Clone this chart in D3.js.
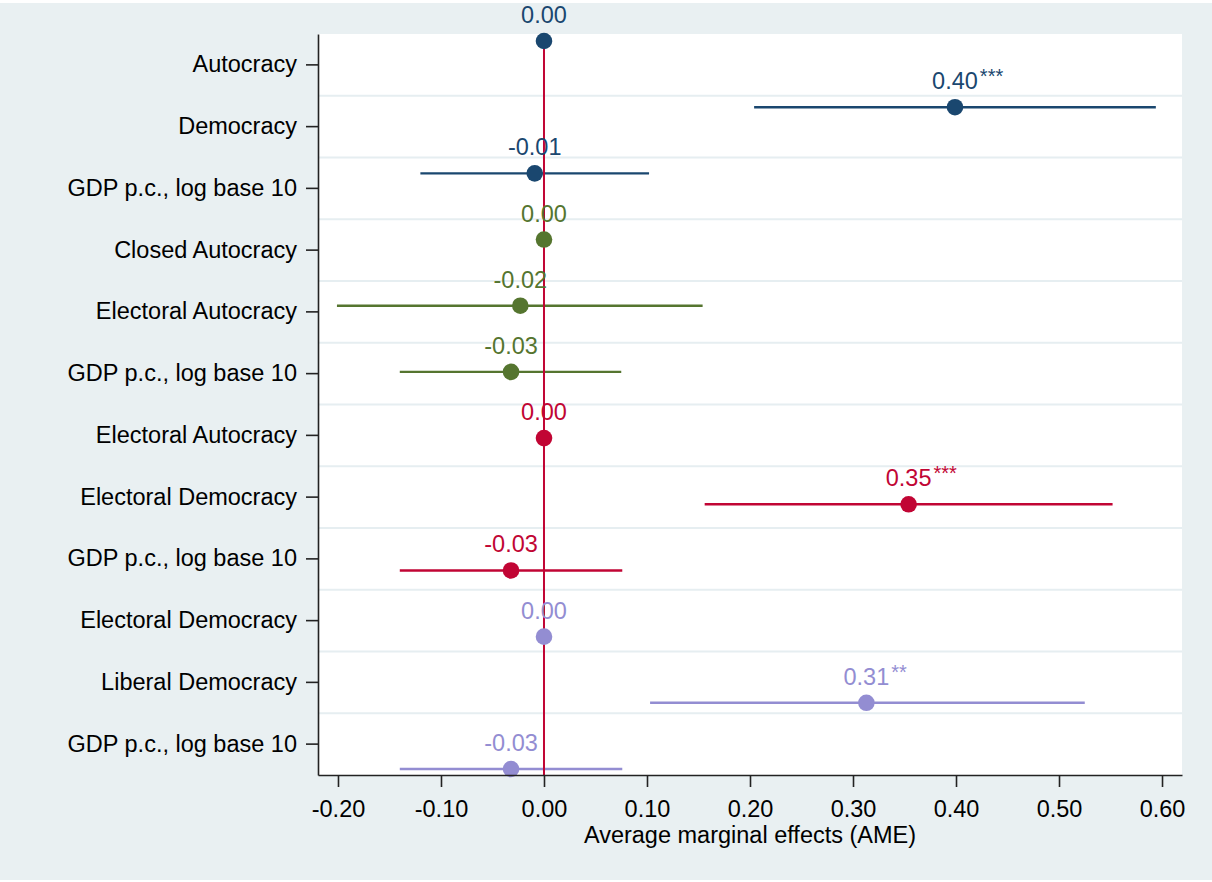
<!DOCTYPE html>
<html>
<head>
<meta charset="utf-8">
<script src="https://cdn.jsdelivr.net/npm/d3@7"></script>
<style>
  html, body { margin: 0; padding: 0; background: #ffffff; }
  svg { display: block; font-family: "Liberation Sans", Arial, Helvetica, sans-serif; }
</style>
</head>
<body>
<svg id="chart" width="1212" height="882"></svg>
<script>
// Row labels, top to bottom (four models, three terms each)
const rowLabels = [
  "Autocracy", "Democracy", "GDP p.c., log base 10",
  "Closed Autocracy", "Electoral Autocracy", "GDP p.c., log base 10",
  "Electoral Autocracy", "Electoral Democracy", "GDP p.c., log base 10",
  "Electoral Democracy", "Liberal Democracy", "GDP p.c., log base 10"
];
// Model each row belongs to
const rowModel = [0, 0, 0, 1, 1, 1, 2, 2, 2, 3, 3, 3];
// Average marginal effects and 95% confidence bounds (null = reference category)
const estimates = [0.000, 0.399, -0.009, 0.000, -0.023, -0.032, 0.000, 0.354, -0.032, 0.000, 0.313, -0.032];
const ciLower   = [null, 0.204, -0.120, null, -0.201, -0.140, null, 0.156, -0.140, null, 0.103, -0.140];
const ciUpper   = [null, 0.594,  0.102, null,  0.154,  0.075, null, 0.552,  0.076, null, 0.525,  0.076];
const stars     = ["", "***", "", "", "", "", "", "***", "", "", "**", ""];
// X-axis ticks
const xTicks = [-0.2, -0.1, 0.0, 0.1, 0.2, 0.3, 0.4, 0.5, 0.6];
const xTitle = "Average marginal effects (AME)";
// Model colours
const modelColors = ["#1a476f", "#55752f", "#c10534", "#938dd2"];

const W = 1212, H = 882;
const plot = { left: 318, right: 1182, top: 34, bottom: 775 };
const FONT = 23.5;

const svg = d3.select("#chart");

// Background frame and white plot region
svg.append("rect").attr("x", 0).attr("y", 3).attr("width", W).attr("height", H - 5)
  .attr("fill", "#e9f0f2");
svg.append("rect").attr("x", plot.left).attr("y", plot.top)
  .attr("width", plot.right - plot.left).attr("height", plot.bottom - plot.top)
  .attr("fill", "#ffffff");

// Scales
const x = d3.scaleLinear().domain([-0.2194, 0.6194]).range([plot.left, plot.right]);
const rows = d3.range(rowLabels.length);
const yBand = d3.scaleBand().domain(rows).range([plot.top, plot.bottom]);
const yPoint = d3.scalePoint().domain(rows).range([41, 769]);

// Horizontal separators between rows
svg.append("g").selectAll("line").data(rows.slice(1)).join("line")
  .attr("x1", plot.left).attr("x2", plot.right)
  .attr("y1", d => yBand(d)).attr("y2", d => yBand(d))
  .attr("stroke", "#e6eef1").attr("stroke-width", 2.2);

// Confidence intervals
const ciRows = rows.filter(i => ciLower[i] !== null);
svg.append("g").selectAll("line").data(ciRows).join("line")
  .attr("x1", i => x(ciLower[i])).attr("x2", i => x(ciUpper[i]))
  .attr("y1", i => yPoint(i)).attr("y2", i => yPoint(i))
  .attr("stroke", i => modelColors[rowModel[i]]).attr("stroke-width", 2.4);

// Zero reference line
svg.append("line")
  .attr("x1", x(0)).attr("x2", x(0))
  .attr("y1", plot.top).attr("y2", plot.bottom)
  .attr("stroke", "#c10534").attr("stroke-width", 2);

// Point estimates
svg.append("g").selectAll("circle").data(rows).join("circle")
  .attr("cx", i => x(estimates[i])).attr("cy", i => yPoint(i))
  .attr("r", 8.3)
  .attr("fill", i => modelColors[rowModel[i]]);

// Value labels with significance stars
const labelG = svg.append("g");
rows.forEach(i => {
  const cx = x(estimates[i]);
  const cy = yPoint(i) - 18;
  const col = modelColors[rowModel[i]];
  const t = labelG.append("text")
    .attr("x", cx).attr("y", cy)
    .attr("text-anchor", "middle")
    .attr("font-size", FONT)
    .attr("fill", col)
    .text(estimates[i].toFixed(2));
  if (stars[i]) {
    const w = t.node().getComputedTextLength();
    labelG.append("text")
      .attr("x", cx + w / 2 + 2).attr("y", cy - 6)
      .attr("font-size", 20)
      .attr("fill", col)
      .text(stars[i]);
  }
});

// Y axis
const yAxis = svg.append("g")
  .attr("transform", `translate(${plot.left},0)`)
  .call(d3.axisLeft(yBand).tickSize(12).tickSizeOuter(0).tickPadding(9)
    .tickFormat(i => rowLabels[i]));

// X axis
const xAxis = svg.append("g")
  .attr("transform", `translate(0,${plot.bottom})`)
  .call(d3.axisBottom(x).tickValues(xTicks).tickSize(12).tickSizeOuter(0).tickPadding(13)
    .tickFormat(d => d.toFixed(2)));

[yAxis, xAxis].forEach(g => {
  g.selectAll("path.domain").attr("stroke", "#222").attr("stroke-width", 1.6);
  g.selectAll(".tick line").attr("stroke", "#222").attr("stroke-width", 1.6);
  g.selectAll(".tick text").attr("font-size", FONT).attr("fill", "#000")
    .attr("font-family", "'Liberation Sans', Arial, Helvetica, sans-serif");
});

// X-axis title
svg.append("text")
  .attr("x", (plot.left + plot.right) / 2).attr("y", 843)
  .attr("text-anchor", "middle")
  .attr("font-size", FONT).attr("fill", "#000")
  .text(xTitle);
</script>
</body>
</html>
